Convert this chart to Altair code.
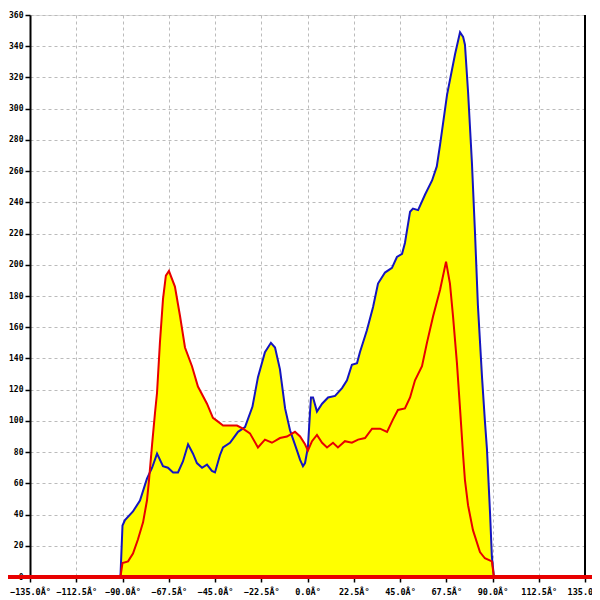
import altair as alt
import pandas as pd

# Blue series (angle in degrees, value)
blue_x = [-91.0, -90.0, -88.8, -84.9, -81.5, -78.1, -75.6, -73.2, -70.3, -67.9, -65.4, -63.0,
          -60.6, -58.1, -55.7, -53.8, -51.3, -48.9, -46.5, -45.0, -42.6, -41.1, -37.7, -33.8,
          -30.4, -26.8, -24.1, -20.7, -17.8, -15.8, -13.4, -10.9, -8.5, -5.1, -3.6, -2.2,
          -1.2, 0.2, 1.2, 1.7, 2.7, 4.6, 7.1, 10.0, 13.4, 16.8, 19.2, 21.6, 24.1, 25.5,
          28.9, 31.9, 34.3, 37.7, 41.1, 43.5, 46.0, 47.4, 49.9, 51.3, 53.8, 57.2, 60.6,
          62.9, 64.5, 67.9, 71.8, 74.2, 75.7, 76.6, 78.1, 80.0, 81.5, 82.9, 84.9, 86.3,
          87.3, 88.8, 89.7, 90.7]
blue_y = [0, 33, 36.5, 42, 49, 63, 70, 79, 71, 70, 67, 67,
          74, 85, 79, 73, 70, 72, 68, 67, 78, 83, 86, 93,
          96, 109, 128, 144, 150, 147, 133, 108, 94, 81, 75, 71,
          73, 83, 105, 115, 115, 106, 111, 115, 116, 121, 126, 136, 137, 144,
          158, 173, 188, 195, 198, 205, 207, 214, 234, 236, 235, 245, 254,
          263, 277, 309, 335, 349, 346, 341, 311, 265, 220, 174, 128, 100,
          82, 41, 13, 0]

# Red series (angle in degrees, value)
red_x = [-91.0, -90.0, -87.3, -84.9, -82.5, -80.0, -78.1, -77.1, -75.6, -74.2, -73.2, -71.8,
         -70.3, -68.9, -67.4, -64.5, -62.0, -59.6, -56.2, -53.3, -48.9, -46.0, -44.0, -41.1,
         -37.7, -34.3, -31.4, -28.0, -24.1, -20.7, -17.3, -13.4, -10.0, -6.1, -3.6, -1.2,
         0.2, 2.2, 4.6, 7.1, 9.5, 12.4, 14.8, 18.2, 21.6, 24.6, 28.0, 31.4, 35.3, 38.7,
         41.6, 44.0, 47.4, 49.9, 52.3, 55.7, 58.1, 61.1, 64.5, 67.4, 69.3, 70.8, 72.7,
         74.2, 75.7, 76.6, 78.1, 80.5, 83.9, 86.3, 89.7, 90.7]
red_y = [0, 9, 10, 15, 24, 35, 49, 62, 85, 105, 118, 150,
         178, 193, 196, 186, 167, 147, 135, 122, 111, 102, 100, 97,
         97, 97, 95, 92, 83, 88, 86, 89, 90, 93, 90, 85,
         81, 87, 91, 86, 83, 86, 83, 87, 86, 88, 89, 95, 95, 93,
         101, 107, 108, 115, 126, 135, 150, 167, 184, 202, 188, 167, 137,
         108, 78, 62, 46, 30, 16, 12, 10, 0]

x_ticks = [-135.0, -112.5, -90.0, -67.5, -45.0, -22.5, 0.0, 22.5, 45.0, 67.5, 90.0, 112.5, 135.0]
y_ticks = list(range(0, 361, 20))

W, H = 555, 562
FONT = "DejaVu Sans Mono"

blue_df = pd.DataFrame({"angle": blue_x, "value": blue_y})
red_df = pd.DataFrame({"angle": red_x, "value": red_y})

xs = alt.Scale(domain=[-135, 135], nice=False, zero=False)
ys = alt.Scale(domain=[0, 360], nice=False)

x_axis = alt.Axis(values=x_ticks, labelExpr="format(datum.value, '.1f') + 'Â°'",
                  title=None, grid=True, gridDash=[3, 3], gridColor="#bbbbbb",
                  domain=False, tickColor="black", tickSize=5, tickWidth=1.5,
                  labelFont=FONT, labelFontSize=8.5, labelFontWeight="bold",
                  labelColor="black", labelPadding=5, labelFlush=False,
                  labelOverlap=False, labelBound=False)
y_axis = alt.Axis(values=y_ticks, title=None, grid=True, gridDash=[3, 3],
                  gridColor="#bbbbbb", domainColor="black", domainWidth=2,
                  tickColor="black", tickSize=5, tickWidth=1.5,
                  labelFont=FONT, labelFontSize=8, labelFontWeight="bold",
                  labelColor="black", labelPadding=2, labelOverlap=False,
                  labelFlush=False, labelBound=False)

X = alt.X("angle:Q", scale=xs, axis=x_axis)
Y = alt.Y("value:Q", scale=ys, axis=y_axis)

area_blue = alt.Chart(blue_df).mark_area(color="#ffff00", opacity=1, interpolate="linear").encode(x=X, y=Y)
area_red = alt.Chart(red_df).mark_area(color="#ffff00", opacity=1, interpolate="linear").encode(x=X, y=Y)
line_blue = alt.Chart(blue_df).mark_line(color="#1515c0", strokeWidth=2).encode(x=X, y=Y)
line_red = alt.Chart(red_df).mark_line(color="#e80000", strokeWidth=2).encode(x=X, y=Y)
right_line = alt.Chart(blue_df).mark_rule(color="black", strokeWidth=2).encode(
    x=alt.value(W), y=alt.value(0), y2=alt.value(H)
)
zero_line = alt.Chart(blue_df).mark_rule(color="#e80000", strokeWidth=3).encode(
    x=alt.value(-30), x2=alt.value(W + 20), y=alt.value(H)
)

chart = alt.layer(area_blue, area_red, right_line, line_blue, line_red, zero_line).properties(
    width=W, height=H,
    autosize=alt.AutoSizeParams(type="none"),
    padding={"left": 22, "top": 7, "right": 7, "bottom": 20},
).configure_view(stroke=None).configure(background="white")

chart.save("out.html", embed_options={"renderer": "svg", "actions": False})
